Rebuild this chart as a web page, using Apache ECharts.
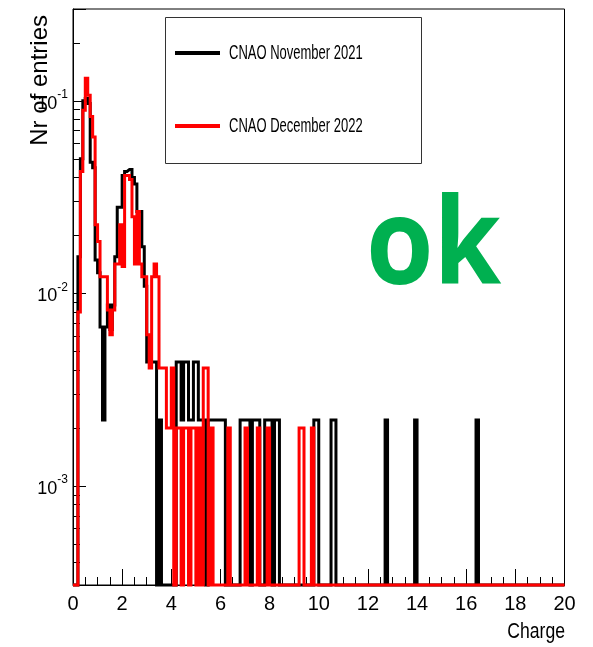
<!DOCTYPE html>
<html>
<head>
<meta charset="utf-8">
<script src="https://cdn.jsdelivr.net/npm/echarts@6/dist/echarts.min.js"></script>
<style>
  html, body { margin: 0; padding: 0; background: #fff; }
  #chart { width: 593px; height: 647px; }
</style>
</head>
<body>
<div id="chart"></div>
<script>
// Charge histograms, 200 bins of width 0.1 from 0 to 20, normalised to unit area.
const BIN_WIDTH = 0.1;
const BIN_COUNT = 200;
const Y_MIN = 3.06e-4;
const Y_MAX = 0.3;

const seriesNames = ['CNAO November 2021', 'CNAO December 2022'];
const seriesColors = ['#000000', '#ff0000'];

// Bins 0.0 .. 6.0 (one value per bin)
const nov2021Head = [
  0, 0, 0.0155, 0.050, 0.100, 0.103, 0.097, 0.048, 0.045, 0.0149,
  0.0128, 0.0067, 0.0022, 0.0067, 0.0087, 0.0065, 0.0087, 0.0155, 0.028, 0.028,
  0.041, 0.043, 0.044, 0.044, 0.040, 0.037, 0.0266, 0.0266, 0.0175, 0.0109,
  0.0044, 0.0044, 0.0044, 0.0044, 0, 0.0022, 0, 0, 0, 0,
  0, 0, 0.0044, 0.0044, 0.0022, 0.0044, 0.0044, 0.0022, 0.0022, 0.0044,
  0.0044, 0.0022, 0.0022, 0.0022, 0, 0.0022, 0.0022, 0.0022, 0.0022, 0.0022,
  0.0022
];
// Sparse tail: [lower bin edge, content]
const nov2021Tail = [
  [6.1, 0.0022], [6.8, 0.0022], [6.9, 0.0022], [7.0, 0.0022], [7.1, 0.0022],
  [7.3, 0.0022], [7.4, 0.0022], [7.5, 0.0022], [7.8, 0.0022], [7.9, 0.0022],
  [8.0, 0.0022], [8.2, 0.0022], [8.3, 0.0022], [9.8, 0.0022], [9.9, 0.0022],
  [10.5, 0.0022], [10.6, 0.0022], [12.7, 0.0022], [13.9, 0.0022], [16.4, 0.0022]
];

const dec2022Head = [
  0, 0, 0.008, 0.043, 0.0895, 0.131, 0.107, 0.083, 0.065, 0.0227,
  0.0186, 0.0122, 0.0122, 0.0122, 0.0082, 0.0061, 0.0082, 0.0142, 0.0142, 0.0227,
  0.0138, 0.041, 0.041, 0.039, 0.025, 0.0142, 0.0266, 0.0142, 0.0122, 0.0122,
  0.0061, 0.0041, 0.0122, 0.0142, 0.0122, 0.0041, 0.0041, 0.0041, 0.0020, 0.0020,
  0.0041, 0, 0.0020, 0.0020, 0, 0.0020, 0.0020, 0, 0.0020, 0.0020,
  0, 0.0020, 0, 0.0041, 0.0041, 0, 0.0020, 0, 0, 0,
  0
];
const dec2022Tail = [
  [6.3, 0.0020], [7.0, 0.0020], [7.5, 0.0020], [7.9, 0.0020],
  [9.2, 0.0020], [9.3, 0.0020], [9.7, 0.0020]
];

const xTickLabels = ['0', '2', '4', '6', '8', '10', '12', '14', '16', '18', '20'];

function buildBins(head, tail) {
  const bins = new Array(BIN_COUNT).fill(0);
  head.forEach((v, i) => { bins[i] = v; });
  tail.forEach(([edge, v]) => { bins[Math.round(edge / BIN_WIDTH)] = v; });
  return bins;
}

// Step outline through the bin edges; empty bins sit on the frame floor.
function outline(bins) {
  const pts = bins.map((v, i) => [+(i * BIN_WIDTH).toFixed(2), v > 0 ? v : Y_MIN]);
  const last = bins[bins.length - 1];
  pts.push([BIN_COUNT * BIN_WIDTH, last > 0 ? last : Y_MIN]);
  return pts;
}

const novBins = buildBins(nov2021Head, nov2021Tail);
const decBins = buildBins(dec2022Head, dec2022Tail);

const chart = echarts.init(document.getElementById('chart'), null, { renderer: 'canvas' });

const FONT = '"Liberation Sans", Arial, Helvetica, sans-serif';

// Legend entries: coloured bar plus condensed label
function legendEntry(i, y) {
  return {
    type: 'group', z: 5,
    children: [
      { type: 'rect', z: 5, shape: { x: 175, y: y - 2, width: 45, height: 4 }, style: { fill: seriesColors[i] } },
      {
        type: 'text', z: 5, x: 229, y: y, scaleX: 0.65,
        style: { text: seriesNames[i], font: '20px ' + FONT, fill: '#000', align: 'left', verticalAlign: 'middle' }
      }
    ]
  };
}

chart.setOption({
  backgroundColor: '#fff',
  animation: false,
  grid: {
    left: 73, right: 28.5, top: 9, bottom: 62,
    show: true, borderColor: '#000', borderWidth: 1, backgroundColor: 'transparent'
  },
  xAxis: {
    type: 'value',
    min: 0, max: 20, interval: 2,
    axisLine: { show: true, lineStyle: { color: '#000', width: 1 } },
    axisTick: { show: true, inside: true, length: 16, lineStyle: { color: '#000', width: 1 } },
    minorTick: { show: true, splitNumber: 4, length: 8, lineStyle: { color: '#000', width: 1 } },
    splitLine: { show: false },
    axisLabel: {
      margin: 9, fontFamily: FONT, fontSize: 20, color: '#000',
      formatter: v => xTickLabels[Math.round(v / 2)]
    }
  },
  yAxis: {
    type: 'log',
    min: Y_MIN, max: Y_MAX,
    logBase: 10,
    axisLine: { show: true, lineStyle: { color: '#000', width: 1 } },
    axisTick: { show: true, inside: true, length: 13, lineStyle: { color: '#000', width: 1 } },
    minorTick: { show: true, splitNumber: 9, length: 7, lineStyle: { color: '#000', width: 1 } },
    splitLine: { show: false },
    axisLabel: {
      margin: 5, showMinLabel: false, showMaxLabel: false,
      formatter: v => '{b|10}{s|' + Math.round(Math.log10(v)) + '}',
      rich: {
        b: { fontFamily: FONT, fontSize: 18, color: '#000', lineHeight: 24, verticalAlign: 'bottom' },
        s: { fontFamily: FONT, fontSize: 12, color: '#000', lineHeight: 24, verticalAlign: 'top' }
      }
    }
  },
  series: [
    {
      name: seriesNames[0], type: 'line', step: 'end',
      data: outline(novBins), showSymbol: false, clip: false,
      lineStyle: { color: seriesColors[0], width: 3, join: 'miter' }, itemStyle: { color: seriesColors[0] },
      z: 2
    },
    {
      name: seriesNames[1], type: 'line', step: 'end',
      data: outline(decBins), showSymbol: false, clip: false,
      lineStyle: { color: seriesColors[1], width: 3, join: 'miter' }, itemStyle: { color: seriesColors[1] },
      z: 3
    }
  ],
  graphic: [
    {
      type: 'rect', z: 1,
      shape: { x: 165.5, y: 17.5, width: 256, height: 146 },
      style: { fill: '#fff', stroke: '#333', lineWidth: 1 }
    },
    legendEntry(0, 53),
    legendEntry(1, 126),
    {
      type: 'text', x: 40, y: 15, rotation: Math.PI / 2,
      style: { text: 'Nr of entries', font: '24px ' + FONT, fill: '#000', align: 'right', verticalAlign: 'middle' }
    },
    {
      type: 'text', x: 565, y: 632, scaleX: 0.8,
      style: { text: 'Charge', font: '22px ' + FONT, fill: '#000', align: 'right', verticalAlign: 'middle' }
    },
    {
      type: 'text', x: 366, y: 250, scaleX: 0.91,
      style: { text: 'ok', font: 'bold 120px "Open Sans", sans-serif', fill: '#00b050', align: 'left', verticalAlign: 'middle' }
    }
  ]
});
</script>
</body>
</html>
